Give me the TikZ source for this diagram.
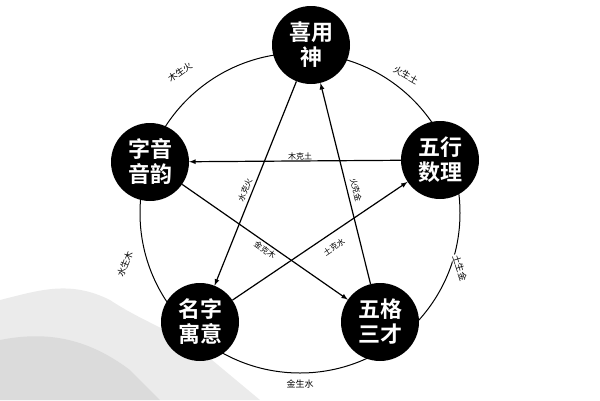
\documentclass[tikz,border=0pt]{standalone}
\usepackage{fontspec}
\newfontfamily\cjk{Noto Sans CJK SC}
\newfontfamily\cjkb{Noto Sans CJK SC Bold}
\begin{document}
\begin{tikzpicture}
      [x=1pt,y=-1pt
      ,elem/.style={circle,fill=black,minimum size=78pt,inner sep=0pt,text=white,font=\cjkb\fontsize{22}{25}\selectfont,align=center}
      ,rel/.style={font=\cjk\fontsize{9}{10}\selectfont,fill=white,inner sep=1pt}
      ,inrel/.style={font=\cjk\fontsize{8}{9}\selectfont,inner sep=1pt}
      ,lin/.style={line width=1.2pt,-latex}
      ]
        \useasboundingbox (0,0) rectangle (600,400);
        \fill[black!8] (0,400) -- (0,300) .. controls (40,290) and (70,280) .. (110,300) .. controls (140,320) and (170,330) .. (200,350) -- (260,400) -- cycle;
        \fill[black!14] (0,400) -- (0,340) .. controls (50,330) and (90,340) .. (130,370) -- (160,400) -- cycle;
        \draw[line width=1pt] (300,213) circle (160);
        \node[elem] (xi) at (311,45) {喜用\\神};
        \node[elem] (zi) at (150,162) {字音\\音韵};
        \node[elem] (wu) at (440,160) {五行\\数理};
        \node[elem] (ming) at (200,322) {名字\\寓意};
        \node[elem] (ge) at (380,322) {五格\\三才};
        % outer cycle
        \node[rel,rotate=35] at (180,72) {木生火};
        \node[rel,rotate=-30] at (406,75) {火生土};
        \node[rel,rotate=-72] at (460,268) {土生金};
        \node[rel,rotate=68] at (125,264) {水生木};
        \node[rel] at (300,384) {金生水};
        % star
        \draw[lin] (wu) -- (zi);
        \draw[lin] (xi) -- (ming);
        \draw[lin] (zi) -- (ge);
        \draw[lin] (ming) -- (wu);
        \draw[lin] (ge) -- (xi);
        \node[inrel] at (300,156) {木克土};
        \node[inrel,rotate=68] at (245,190) {水克火};
        \node[inrel,rotate=-76] at (356,190) {火克金};
        \node[inrel,rotate=-35] at (265,250) {金克木};
        \node[inrel,rotate=34] at (334,247) {土克水};
      \end{tikzpicture}
\end{document}
